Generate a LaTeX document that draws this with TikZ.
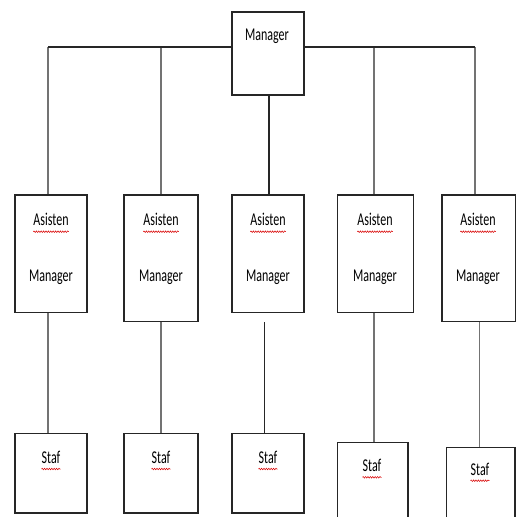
\documentclass[tikz,border=0pt]{standalone}
\usepackage{fontspec}
\usepackage{graphicx}
\setmainfont{Carlito}
\usetikzlibrary{decorations.pathmorphing}
\newcommand{\tx}[1]{\scalebox{1}[1.5]{#1}}
\tikzset{
  box/.style={draw=black!85, line width=1.3pt, rectangle, inner sep=0pt, fill=white},
  lbl/.style={inner sep=0pt, anchor=base, font=\fontsize{12}{14}\selectfont, text=black},
  conn/.style={draw=black!55, line width=1.1pt},
  connd/.style={draw=black!85, line width=1.1pt},
  bus/.style={draw=black!85, line width=1.4pt},
  squig/.style={draw=red!85!black, line width=0.5pt, decorate, decoration={snake, amplitude=0.8pt, segment length=2.4pt}}
}
\begin{document}
\begin{tikzpicture}[x=1pt, y=-1pt]
\clip (0,0) rectangle (516,517);
\fill[white] (0,0) rectangle (516,517);
% boxes
\node[box, minimum width=72pt, minimum height=83pt] (mgr) at (268,53.5) {};
\node[box, minimum width=72pt, minimum height=117.7pt] (a1) at (51,253.9) {};
\node[box, minimum width=74pt, minimum height=126.7pt] (a2) at (161,258.3) {};
\node[box, minimum width=72pt, minimum height=117.7pt] (a3) at (268,253.9) {};
\node[box, minimum width=76pt, minimum height=117.7pt] (a4) at (375.3,253.9) {};
\node[box, minimum width=73.7pt, minimum height=126.7pt] (a5) at (478.9,258.3) {};
\node[box, minimum width=72pt, minimum height=79.7pt] (s1) at (51,473.2) {};
\node[box, minimum width=74pt, minimum height=79.7pt] (s2) at (161,473.2) {};
\node[box, minimum width=72pt, minimum height=79.7pt] (s3) at (268,473.2) {};
\node[box, minimum width=70.3pt, minimum height=87.7pt] (s4) at (372.9,486.2) {};
\node[box, minimum width=68.3pt, minimum height=82.7pt] (s5) at (480.9,488.7) {};
% bus
\coordinate (busL) at ([yshift=6.5pt]mgr.west);
\coordinate (busR) at ([yshift=6.5pt]mgr.east);
\coordinate (d1) at ([xshift=-3pt]a1.north |- busL);
\coordinate (d2) at (a2.north |- busL);
\coordinate (d4) at ([xshift=-1.3pt]a4.north |- busR);
\coordinate (d5) at ([xshift=-3.9pt]a5.north |- busR);
\draw[conn] (d1) -- ([xshift=-3pt]a1.north);
\draw[conn] (d2) -- (a2.north);
\draw[conn] (d4) -- ([xshift=-1.3pt]a4.north);
\draw[conn] (d5) -- ([xshift=-3.9pt]a5.north);
\draw[bus] (d1) -- (busL);
\draw[bus] (busR) -- (d5);
\draw[connd] ([xshift=1pt]mgr.south) -- ([xshift=1pt]a3.north);
% lower connectors
\draw[conn] ([xshift=-3pt]a1.south) -- ([xshift=-3pt]a1.south |- s1.north);
\draw[conn] (a2.south) -- (a2.south |- s2.north);
\draw[connd] ([xshift=-3.7pt,yshift=-9pt]a3.south) -- ([xshift=-3.7pt]a3.south |- s3.north);
\draw[conn] ([xshift=-1.3pt]a4.south) -- ([xshift=-1.3pt]a4.south |- s4.north);
\draw[conn] ([xshift=0.4pt]a5.south) -- ([xshift=0.4pt]a5.south |- s5.north);
% texts
\node[lbl] (mgrt) at (267,40.7) {\tx{Manager}};
\foreach \n/\x in {a1/51, a2/161, a3/268, a4/375, a5/478}{
  \node[lbl] (\n t1) at (\x,225.7) {\tx{Asisten}};
  \node[lbl] (\n t2) at (\x,281) {\tx{Manager}};
  \draw[squig] ([yshift=-6pt]\n t1.base west) -- ([yshift=-6pt]\n t1.base east);
}
\foreach \n/\x/\y in {s1/51/463.3, s2/161/463.3, s3/268/463.3, s4/372/471.6, s5/480/475}{
  \node[lbl] (\n t) at (\x,\y) {\tx{Staf}};
  \draw[squig] ([yshift=-5.7pt]\n t.base west) -- ([yshift=-5.7pt]\n t.base east);
}
\end{tikzpicture}
\end{document}
